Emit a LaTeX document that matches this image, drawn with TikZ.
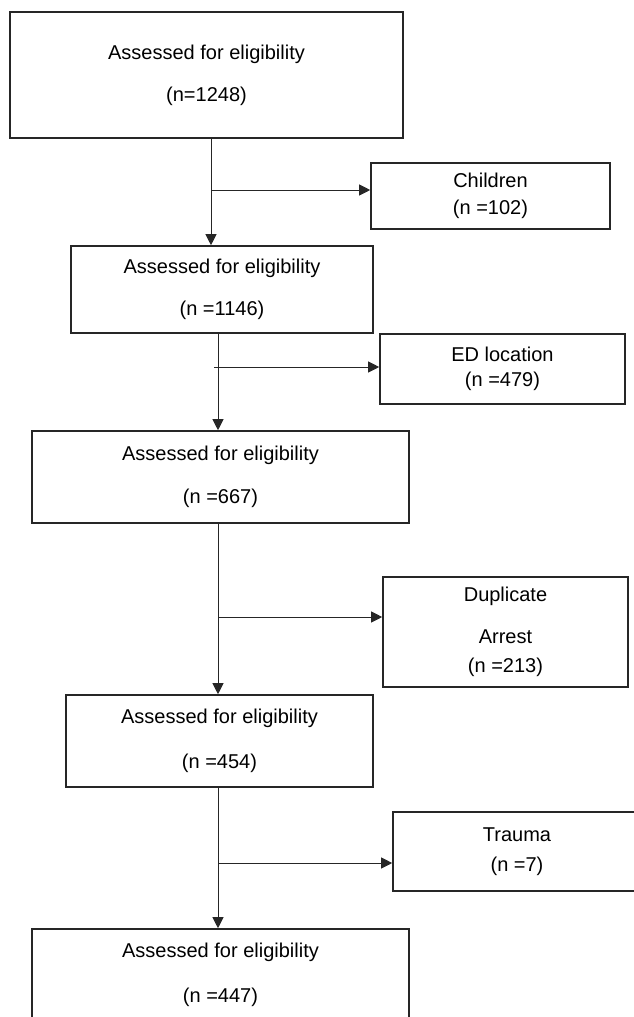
\documentclass[tikz,border=0pt]{standalone}
\usepackage{fontspec}
\setmainfont{Liberation Sans}
\usepackage{tikz}
\usetikzlibrary{arrows.meta}

\begin{document}
\begin{tikzpicture}
[x=1pt,y=-1pt,
box/.style={draw=black!85,line width=1.6pt,inner sep=0pt,align=center,
font=\fontsize{20}{24}\selectfont},
arr/.style={draw=black!85,line width=1pt,-{Triangle[length=11pt,width=11pt]}}]
\useasboundingbox (0,0) rectangle (634,1017);
\node[box,minimum width=393pt,minimum height=126pt] (elig1) at (206.5,75)
{Assessed for eligibility\\[18pt](n=1248)};
\node[box,minimum width=239pt,minimum height=66pt] (children) at (490.5,196)
{Children\\[3pt](n =102)};
\node[box,minimum width=302pt,minimum height=87pt] (elig2) at (222,289.5)
{Assessed for eligibility\\[18pt](n =1146)};
\node[box,minimum width=245pt,minimum height=70pt] (edloc) at (502.5,369)
{ED location\\[1pt](n =479)};
\node[box,minimum width=377pt,minimum height=92pt] (elig3) at (220.5,477)
{Assessed for eligibility\\[19pt](n =667)};
\node[box,minimum width=245pt,minimum height=110pt] (dup) at (505.5,632)
{Duplicate\\[18pt]Arrest\\[5pt](n =213)};
\node[box,minimum width=307pt,minimum height=92pt] (elig4) at (219.5,741)
{Assessed for eligibility\\[21pt](n =454)};
\node[box,minimum width=248pt,minimum height=79pt] (trauma) at (517,851.5)
{Trauma\\[6pt](n =7)};
\node[box,minimum width=377pt,minimum height=92pt] (elig5) at (220.5,975)
{Assessed for eligibility\\[21pt](n =447)};
\coordinate (j1) at (211,190);
\coordinate (j2) at (214,367);
\coordinate (j3) at (218,617);
\coordinate (j4) at (218,863);
\draw[arr] (elig1.south -| j1) -- (elig2.north -| j1);
\draw[arr] (j1) -- (j1 -| children.west);
\draw[arr] (218,0 |- elig2.south) -- (218,0 |- elig3.north);
\draw[arr] (j2) -- (j2 -| edloc.west);
\draw[arr] (elig3.south -| j3) -- (elig4.north -| j3);
\draw[arr] (j3) -- (j3 -| dup.west);
\draw[arr] (elig4.south -| j4) -- (elig5.north -| j4);
\draw[arr] (j4) -- (j4 -| trauma.west);
\end{tikzpicture}
\end{document}
